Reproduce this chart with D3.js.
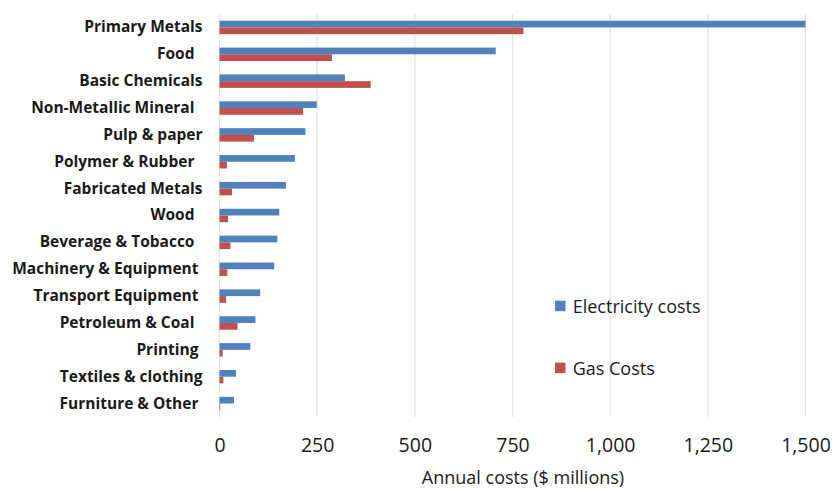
<!DOCTYPE html>
<html>
<head>
<meta charset="utf-8">
<script src="https://cdn.jsdelivr.net/npm/d3@7"></script>
<style>
  body { margin: 0; background: #fff; }
  svg text { font-family: "Open Sans", sans-serif; fill: #1a1a1a; }
</style>
</head>
<body>
<script>
// industry sectors, top to bottom (trailing spaces kept as in the source chart)
var categories = [
  "Primary Metals", "Food\u00a0\u00a0", "Basic Chemicals", "Non-Metallic Mineral\u00a0\u00a0",
  "Pulp & paper", "Polymer & Rubber\u00a0\u00a0", "Fabricated Metals", "Wood\u00a0\u00a0",
  "Beverage & Tobacco\u00a0\u00a0", "Machinery & Equipment\u00a0", "Transport Equipment\u00a0",
  "Petroleum & Coal\u00a0\u00a0", "Printing\u00a0", "Textiles & clothing", "Furniture & Other\u00a0"
];
// annual costs, $ millions
var electricity = [1500, 707, 321, 249, 220, 193, 170, 153, 148, 140, 104, 92, 79, 42, 37];
var gas = [778, 288, 387, 214, 88, 19, 32, 22, 28, 20, 17, 46, 8, 10, 2];
var xTicks = [0, 250, 500, 750, 1000, 1250, 1500];
var seriesNames = ["Electricity costs", "Gas Costs"];
var seriesColors = ["#4f81bd", "#c0504d"];

var width = 834, height = 489;
var margin = { left: 219.5, right: 28.5, top: 14, bottom: 72 };

var svg = d3.select("body").append("svg")
    .attr("width", width)
    .attr("height", height);

var x = d3.scaleLinear()
    .domain([0, 1500])
    .range([margin.left, width - margin.right]);

var y = d3.scaleBand()
    .domain(categories)
    .range([margin.top, height - margin.bottom])
    .paddingInner(0.5)
    .paddingOuter(0.25);

var sub = d3.scaleBand()
    .domain([0, 1])
    .range([0, y.bandwidth()]);

// vertical gridlines
svg.append("g")
    .selectAll("line")
    .data(xTicks)
    .enter().append("line")
    .attr("x1", function(d) { return x(d); })
    .attr("x2", function(d) { return x(d); })
    .attr("y1", margin.top)
    .attr("y2", height - margin.bottom)
    .attr("stroke", "#e3e3e3")
    .attr("stroke-width", 1.2);

// bars
var groups = svg.append("g")
    .selectAll("g")
    .data(categories)
    .enter().append("g")
    .attr("transform", function(d) { return "translate(0," + y(d) + ")"; });

groups.append("rect")
    .attr("x", x(0))
    .attr("y", sub(0))
    .attr("height", sub.bandwidth())
    .attr("width", function(d, i) { return x(electricity[i]) - x(0); })
    .attr("fill", seriesColors[0]);

groups.append("rect")
    .attr("x", x(0))
    .attr("y", sub(1))
    .attr("height", sub.bandwidth())
    .attr("width", function(d, i) { return x(gas[i]) - x(0); })
    .attr("fill", seriesColors[1]);

// category labels
var yAxis = svg.append("g")
    .attr("transform", "translate(" + (margin.left - 17) + ",0)")
    .call(d3.axisLeft(y).tickSize(0).tickPadding(0));
yAxis.select(".domain").remove();
yAxis.selectAll("text")
    .style("font-size", "15.5px")
    .style("font-weight", "bold")
    .style("font-family", "'Open Sans', sans-serif")
    .style("white-space", "pre")
    .attr("fill", "#1a1a1a");

// x axis
var xAxis = svg.append("g")
    .attr("transform", "translate(0," + (height - margin.bottom) + ")")
    .call(d3.axisBottom(x).tickValues(xTicks).tickSize(0).tickPadding(21)
        .tickFormat(d3.format(",")));
xAxis.select(".domain").remove();
xAxis.selectAll("text")
    .style("font-size", "19.5px")
    .style("font-family", "'Open Sans', sans-serif")
    .attr("fill", "#1a1a1a");

svg.append("text")
    .attr("x", (x(0) + x(1500)) / 2 + 10.5)
    .attr("y", 484)
    .attr("text-anchor", "middle")
    .style("font-size", "18px")
    .text("Annual costs ($ millions)");

// legend
var legend = svg.append("g")
    .selectAll("g")
    .data(seriesNames)
    .enter().append("g")
    .attr("transform", function(d, i) { return "translate(555," + (300.7 + i * 62) + ")"; });

legend.append("rect")
    .attr("width", 10.5)
    .attr("height", 10.5)
    .attr("fill", function(d, i) { return seriesColors[i]; });

legend.append("text")
    .attr("x", 17.7)
    .attr("y", 5.5)
    .attr("dy", "0.35em")
    .style("font-size", "18px")
    .text(function(d) { return d; });
</script>
</body>
</html>
